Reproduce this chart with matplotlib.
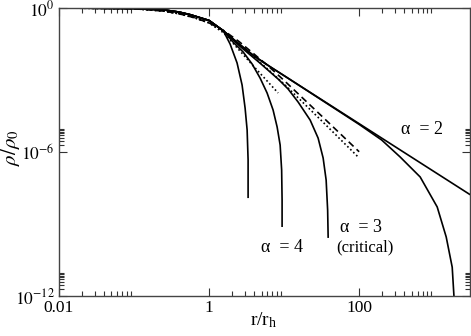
import numpy as np
import matplotlib
matplotlib.use("Agg")
import matplotlib.pyplot as plt
from matplotlib.ticker import FixedLocator, NullFormatter, FixedFormatter

plt.rcParams['font.family'] = ['Liberation Serif', 'DejaVu Serif']
plt.rcParams['mathtext.fontset'] = 'stix'

# ---- data: (log10 r/r_h, log10 rho/rho0) ----
# alpha = 4, first curve (cut-off near r ~ 3.3)
a4a_lr   = [-2.0, -1.0, -0.6, -0.4, -0.25, 0.0, 0.19, 0.28, 0.373, 0.44, 0.48, 0.507, 0.52, 0.52]
a4a_lrho = [0.0, -0.02, -0.08, -0.17, -0.28, -0.52, -0.95, -1.5, -2.29, -3.21, -4.17, -5.08, -6.33, -7.92]
# alpha = 4, second curve (cut-off near r ~ 9.4)
a4b_lr   = [-2.0, -1.0, -0.6, -0.4, -0.25, 0.0, 0.19, 0.32, 0.453, 0.573, 0.68, 0.773, 0.853, 0.907, 0.947, 0.967, 0.973, 0.973]
a4b_lrho = [0.0, -0.02, -0.08, -0.17, -0.28, -0.52, -0.95, -1.42, -1.83, -2.33, -2.92, -3.54, -4.25, -4.96, -5.71, -6.75, -8.0, -9.125]
# alpha = 3 (critical), cut-off near r ~ 39
a3_lr   = [-2.0, -1.0, -0.6, -0.4, -0.25, 0.0, 0.19, 0.413, 0.68, 0.92, 1.053, 1.187, 1.347, 1.453, 1.52, 1.56, 1.58, 1.587]
a3_lrho = [0.0, -0.02, -0.08, -0.17, -0.28, -0.52, -0.95, -1.6, -2.3, -2.96, -3.375, -3.92, -4.67, -5.42, -6.25, -7.17, -8.42, -9.58]
# alpha = 2, power-law tail
a2_lr   = [-2.0, -1.0, -0.6, -0.4, -0.25, 0.0, 0.19, 0.4, 0.6, 0.8, 1.0, 2.0, 3.48]
a2_lrho = [0.0, -0.02, -0.08, -0.17, -0.28, -0.52, -0.95, -1.5, -2.0, -2.42, -2.82, -4.82, -7.78]
# alpha = 2, truncated curve
a2t_lr   = [-2.0, -1.0, -0.6, -0.4, -0.25, 0.0, 0.19, 0.4, 0.6, 0.8, 1.0, 2.0, 2.3, 2.547, 2.813, 3.04, 3.16, 3.24, 3.267]
a2t_lrho = [0.0, -0.02, -0.08, -0.17, -0.28, -0.52, -0.95, -1.5, -2.0, -2.42, -2.82, -4.85, -5.5, -6.21, -7.04, -8.29, -9.54, -10.8, -12.2]
# dashed reference curve
dash_lr   = [-2.0, -1.0, -0.6, -0.4, -0.2, 0.0, 0.2, 0.4, 0.6, 0.8, 1.0, 1.5, 2.0]
dash_lrho = [0.0, -0.03, -0.13, -0.24, -0.4, -0.62, -0.95, -1.4, -1.92, -2.45, -3.02, -4.5, -5.99]
# dotted reference curve
dot_lr   = [-2.0, -1.0, -0.6, -0.4, -0.2, 0.0, 0.2, 0.4, 0.6, 0.8, 1.0, 1.5, 2.0]
dot_lrho = [0.0, -0.03, -0.13, -0.24, -0.4, -0.62, -1.0, -1.5, -2.05, -2.6, -3.17, -4.7, -6.25]
# short dotted curve
dot2_lr   = [-2.0, -1.0, -0.6, -0.4, -0.2, 0.0, 0.2, 0.4, 0.6, 0.92]
dot2_lrho = [0.0, -0.03, -0.13, -0.24, -0.4, -0.62, -1.05, -1.75, -2.45, -3.54]

x_major = [0.01, 1, 100]
x_major_labels = ['0.01', '1', '100']
y_major = [1e-12, 1e-6, 1e0]
y_major_labels = [r'$10^{-12}$', r'$10^{-6}$', r'$10^{0}$']

W, H = 471, 336
fig = plt.figure(figsize=(W/100, H/100), dpi=100)
ax = fig.add_axes([59/W, 1-296/H, 411/W, 288/H])

def P(lr, lrho):
    return 10**np.array(lr), 10**np.array(lrho)

lw = 1.2
for lr, lrho in [(a4a_lr, a4a_lrho), (a4b_lr, a4b_lrho), (a3_lr, a3_lrho),
                 (a2_lr, a2_lrho), (a2t_lr, a2t_lrho)]:
    ax.plot(*P(lr, lrho), color='black', lw=lw, solid_capstyle='butt')
ax.plot(*P(dash_lr, dash_lrho), color='black', lw=lw, dashes=(4, 2.5))
ax.plot(*P(dot_lr, dot_lrho), color='black', lw=lw, dashes=(1, 1.5))
ax.plot(*P(dot2_lr, dot2_lrho), color='black', lw=lw, dashes=(1, 1.5))

ax.set_xscale('log')
ax.set_yscale('log')
ax.set_xlim(0.01, 3000)
ax.set_ylim(1e-12, 1)

xminor = [m * b for b in x_major for m in range(2, 10)]
yminor = [m * b for b in y_major for m in range(2, 10)]
ax.xaxis.set_major_locator(FixedLocator(x_major))
ax.xaxis.set_major_formatter(FixedFormatter(x_major_labels))
ax.xaxis.set_minor_locator(FixedLocator(xminor))
ax.xaxis.set_minor_formatter(NullFormatter())
ax.yaxis.set_major_locator(FixedLocator(y_major))
ax.yaxis.set_major_formatter(FixedFormatter(y_major_labels))
ax.yaxis.set_minor_locator(FixedLocator(yminor))
ax.yaxis.set_minor_formatter(NullFormatter())

ax.tick_params(which='both', direction='in', top=True, right=True, color='#333333')
ax.tick_params(which='major', length=6, width=0.8, labelsize=12.5, pad=3)
ax.tick_params(which='minor', length=3.5, width=0.8)
for s in ax.spines.values():
    s.set_color('#444444')
    s.set_linewidth(1.0)

ax.set_xlabel(r'r/r$_\mathregular{h}$', fontsize=14)
ax.set_ylabel(r'$\rho/\rho_0$', fontsize=15)
ax.xaxis.set_label_coords((264 - 59) / 411, (296 - 310) / 288)
ax.yaxis.set_label_coords((22 - 59) / 411, (296 - 148) / 288)

def T(x, y, s, fs):
    fig.text(x / W, 1 - y / H, s, fontsize=fs, ha='center', va='center')

T(422, 130, 'α  = 2', 13)
T(282, 248, 'α  = 4', 13)
T(361, 228, 'α  = 3', 13)
T(365, 247, '(critical)', 12)

fig.savefig('out.png', dpi=100)
